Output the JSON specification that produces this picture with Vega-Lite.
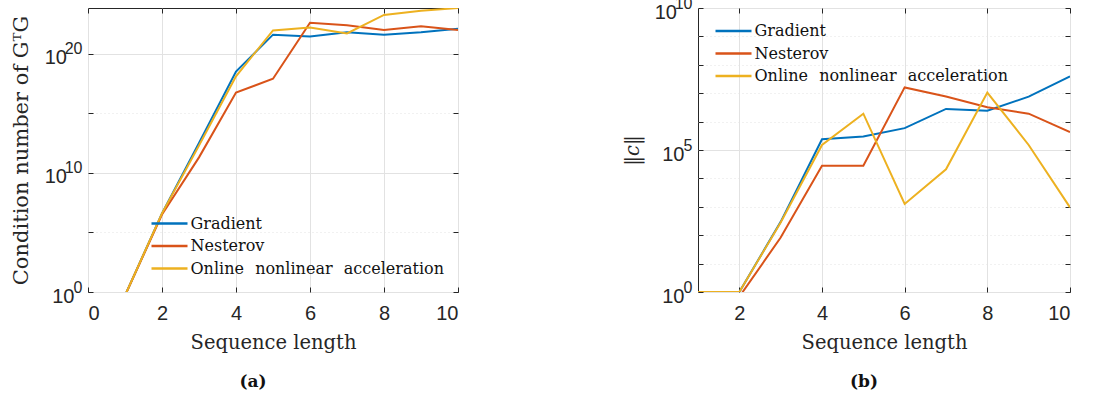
{
  "$schema": "https://vega.github.io/schema/vega-lite/v6.json",
  "background": "white",
  "padding": {"left": 9, "top": -6, "right": 5, "bottom": 5},
  "spacing": 240,
  "bounds": "flush",
  "datasets": {
    "a": [
      {"x": 1, "method": "Gradient", "y": 0.5},
      {"x": 2, "method": "Gradient", "y": 4.0e6},
      {"x": 3, "method": "Gradient", "y": 3.2e12},
      {"x": 4, "method": "Gradient", "y": 3.2e18},
      {"x": 5, "method": "Gradient", "y": 4.0e21},
      {"x": 6, "method": "Gradient", "y": 2.8e21},
      {"x": 7, "method": "Gradient", "y": 6.3e21},
      {"x": 8, "method": "Gradient", "y": 4.0e21},
      {"x": 9, "method": "Gradient", "y": 6.3e21},
      {"x": 10, "method": "Gradient", "y": 1.26e22},
      {"x": 1, "method": "Nesterov", "y": 0.5},
      {"x": 2, "method": "Nesterov", "y": 3.2e6},
      {"x": 3, "method": "Nesterov", "y": 2.0e11},
      {"x": 4, "method": "Nesterov", "y": 5.6e16},
      {"x": 5, "method": "Nesterov", "y": 7.9e17},
      {"x": 6, "method": "Nesterov", "y": 4.0e22},
      {"x": 7, "method": "Nesterov", "y": 2.5e22},
      {"x": 8, "method": "Nesterov", "y": 1.0e22},
      {"x": 9, "method": "Nesterov", "y": 2.0e22},
      {"x": 10, "method": "Nesterov", "y": 1.0e22},
      {"x": 1, "method": "Online nonlinear acceleration", "y": 0.5},
      {"x": 2, "method": "Online nonlinear acceleration", "y": 4.0e6},
      {"x": 3, "method": "Online nonlinear acceleration", "y": 2.0e12},
      {"x": 4, "method": "Online nonlinear acceleration", "y": 1.26e18},
      {"x": 5, "method": "Online nonlinear acceleration", "y": 9.1e21},
      {"x": 6, "method": "Online nonlinear acceleration", "y": 1.6e22},
      {"x": 7, "method": "Online nonlinear acceleration", "y": 5.0e21},
      {"x": 8, "method": "Online nonlinear acceleration", "y": 1.8e23},
      {"x": 9, "method": "Online nonlinear acceleration", "y": 4.0e23},
      {"x": 10, "method": "Online nonlinear acceleration", "y": 6.9e23}
    ],
    "b": [
      {"x": 1, "method": "Gradient", "y": 1},
      {"x": 2, "method": "Gradient", "y": 1},
      {"x": 3, "method": "Gradient", "y": 295},
      {"x": 4, "method": "Gradient", "y": 2.4e5},
      {"x": 5, "method": "Gradient", "y": 3.0e5},
      {"x": 6, "method": "Gradient", "y": 5.9e5},
      {"x": 7, "method": "Gradient", "y": 2.8e6},
      {"x": 8, "method": "Gradient", "y": 2.4e6},
      {"x": 9, "method": "Gradient", "y": 7.6e6},
      {"x": 10, "method": "Gradient", "y": 3.9e7},
      {"x": 1, "method": "Nesterov", "y": 0.68},
      {"x": 2, "method": "Nesterov", "y": 0.68},
      {"x": 3, "method": "Nesterov", "y": 83},
      {"x": 4, "method": "Nesterov", "y": 2.8e4},
      {"x": 5, "method": "Nesterov", "y": 2.8e4},
      {"x": 6, "method": "Nesterov", "y": 1.6e7},
      {"x": 7, "method": "Nesterov", "y": 7.6e6},
      {"x": 8, "method": "Nesterov", "y": 3.2e6},
      {"x": 9, "method": "Nesterov", "y": 1.9e6},
      {"x": 10, "method": "Nesterov", "y": 4.3e5},
      {"x": 1, "method": "Online nonlinear acceleration", "y": 1},
      {"x": 2, "method": "Online nonlinear acceleration", "y": 1},
      {"x": 3, "method": "Online nonlinear acceleration", "y": 280},
      {"x": 4, "method": "Online nonlinear acceleration", "y": 1.5e5},
      {"x": 5, "method": "Online nonlinear acceleration", "y": 1.9e6},
      {"x": 6, "method": "Online nonlinear acceleration", "y": 1260},
      {"x": 7, "method": "Online nonlinear acceleration", "y": 2.1e4},
      {"x": 8, "method": "Online nonlinear acceleration", "y": 1.05e7},
      {"x": 9, "method": "Online nonlinear acceleration", "y": 1.5e5},
      {"x": 10, "method": "Online nonlinear acceleration", "y": 955}
    ]
  },
  "config": {
    "view": {"stroke": "#262626", "strokeWidth": 1},
    "axis": {
      "domain": false,
      "labelFont": "Liberation Sans",
      "labelFontSize": 20,
      "labelColor": "#262626",
      "titleFont": "DejaVu Serif",
      "titleFontWeight": "normal",
      "titleFontSize": 19.5,
      "titleColor": "#262626",
      "gridColor": "#e2e2e2",
      "gridWidth": 1,
      "tickColor": "#262626",
      "tickSize": -5,
      "labelPadding": 6
    },
    "legend": {
      "orient": "none",
      "title": null,
      "padding": 0,
      "symbolOffset": 0,
      "symbolType": "M-2,0H2",
      "symbolSize": 324,
      "symbolStrokeWidth": 2.5,
      "labelFont": "DejaVu Serif",
      "labelFontSize": 16,
      "labelColor": "#111111",
      "labelOffset": 10.5,
      "labelLimit": 0,
      "rowPadding": 3.5
    },
    "title": {
      "orient": "bottom",
      "font": "DejaVu Serif",
      "fontSize": 17,
      "fontWeight": "bold",
      "color": "#111111",
      "offset": 22,
      "frame": "group",
      "dx": -20
    }
  },
  "resolve": {"scale": {"color": "independent"}},
  "hconcat": [
    {
      "width": 370,
      "height": 284,
      "title": {"text": "(a)"},
      "data": {"name": "a"},
      "resolve": {"scale": {"x": "independent", "y": "independent"}, "axis": {"x": "independent", "y": "independent"}},
      "layer": [
        {
          "mark": {"type": "line", "strokeWidth": 2, "clip": true},
          "encoding": {
            "x": {
              "field": "x", "type": "quantitative",
              "scale": {"domain": [0, 10], "nice": false},
              "axis": {"orient": "bottom", "values": [0, 2, 4, 6, 8, 10], "title": "Sequence length", "labelPadding": 16, "titlePadding": 10}
            },
            "y": {
              "field": "y", "type": "quantitative",
              "scale": {"type": "log", "domain": [1, 6.9e23], "nice": false},
              "axis": {
                "orient": "left",
                "values": [1, 1e5, 1e10, 1e15, 1e20],
                "labelExpr": "round(log(datum.value)/LN10) % 10 == 0 ? '10' : ''",
                "labelAlign": "right",
                "labelOffset": 4,
                "labelPadding": {"condition": {"test": "round(log(datum.value)/LN10) >= 10", "value": 26.5}, "value": 19},
                "gridDash": {"condition": {"test": "round(log(datum.value)/LN10) % 10 != 0", "value": [1, 3]}, "value": []},
                "title": "Condition number of GᵀG",
                "titleFontSize": 21,
                "titlePadding": 13
              }
            },
            "color": {
              "field": "method", "type": "nominal",
              "scale": {"domain": ["Gradient", "Nesterov", "Online nonlinear acceleration"], "range": ["#0072BD", "#D95319", "#EDB120"]},
              "legend": {"legendX": 71, "legendY": 205, "labelExpr": "datum.label == 'Online nonlinear acceleration' ? 'Online\u2002\u2009nonlinear\u2002\u2009acceleration' : datum.label"}
            }
          }
        },
        {
          "mark": {"type": "point", "opacity": 0},
          "encoding": {
            "y": {
              "field": "y", "type": "quantitative",
              "scale": {"type": "log", "domain": [1, 6.9e23], "nice": false},
              "axis": {
                "orient": "left",
                "values": [1, 1e10, 1e20],
                "labelExpr": "'' + round(log(datum.value)/LN10)",
                "labelFontSize": 16,
                "labelAlign": "right",
                "labelOffset": -5,
                "labelPadding": 6,
                "grid": false,
                "ticks": false,
                "title": null
              }
            }
          }
        },
        {
          "mark": {"type": "point", "opacity": 0},
          "encoding": {
            "x": {
              "field": "x", "type": "quantitative",
              "scale": {"domain": [0, 10], "nice": false},
              "axis": {"orient": "top", "values": [0, 2, 4, 6, 8, 10], "labels": false, "grid": false, "title": null}
            },
            "y": {
              "field": "y", "type": "quantitative",
              "scale": {"type": "log", "domain": [1, 6.9e23], "nice": false},
              "axis": {"orient": "right", "values": [1, 1e5, 1e10, 1e15, 1e20], "labels": false, "grid": false, "title": null}
            }
          }
        }
      ]
    },
    {
      "width": 372,
      "height": 284,
      "title": {"text": "(b)"},
      "data": {"name": "b"},
      "resolve": {"scale": {"x": "independent", "y": "independent"}, "axis": {"x": "independent", "y": "independent"}},
      "layer": [
        {
          "mark": {"type": "line", "strokeWidth": 2, "clip": true},
          "encoding": {
            "x": {
              "field": "x", "type": "quantitative",
              "scale": {"domain": [1, 10], "nice": false},
              "axis": {"orient": "bottom", "values": [2, 4, 6, 8, 10], "title": "Sequence length", "labelPadding": 16, "titlePadding": 10}
            },
            "y": {
              "field": "y", "type": "quantitative",
              "scale": {"type": "log", "domain": [1, 1e10], "nice": false},
              "axis": {
                "orient": "left",
                "values": [1, 10, 100, 1e3, 1e4, 1e5, 1e6, 1e7, 1e8, 1e9, 1e10],
                "labelExpr": "round(log(datum.value)/LN10) % 5 == 0 ? '10' : ''",
                "labelAlign": "right",
                "labelOffset": 4,
                "labelPadding": {"condition": {"test": "round(log(datum.value)/LN10) >= 10", "value": 26.5}, "value": 19},
                "gridDash": {"condition": {"test": "round(log(datum.value)/LN10) % 5 != 0", "value": [1, 3]}, "value": []},
                "title": "‖c‖",
                "titleFontStyle": "italic",
                "titlePadding": 12
              }
            },
            "color": {
              "field": "method", "type": "nominal",
              "scale": {"domain": ["Gradient", "Nesterov", "Online nonlinear acceleration"], "range": ["#0072BD", "#D95319", "#EDB120"]},
              "legend": {"legendX": 25, "legendY": 12.5, "labelExpr": "datum.label == 'Online nonlinear acceleration' ? 'Online\u2002\u2009nonlinear\u2002\u2009acceleration' : datum.label"}
            }
          }
        },
        {
          "mark": {"type": "point", "opacity": 0},
          "encoding": {
            "y": {
              "field": "y", "type": "quantitative",
              "scale": {"type": "log", "domain": [1, 1e10], "nice": false},
              "axis": {
                "orient": "left",
                "values": [1, 1e5, 1e10],
                "labelExpr": "'' + round(log(datum.value)/LN10)",
                "labelFontSize": 16,
                "labelAlign": "right",
                "labelOffset": -5,
                "labelPadding": 6,
                "grid": false,
                "ticks": false,
                "title": null
              }
            }
          }
        },
        {
          "mark": {"type": "point", "opacity": 0},
          "encoding": {
            "x": {
              "field": "x", "type": "quantitative",
              "scale": {"domain": [1, 10], "nice": false},
              "axis": {"orient": "top", "values": [2, 4, 6, 8, 10], "labels": false, "grid": false, "title": null}
            },
            "y": {
              "field": "y", "type": "quantitative",
              "scale": {"type": "log", "domain": [1, 1e10], "nice": false},
              "axis": {"orient": "right", "values": [1, 10, 100, 1e3, 1e4, 1e5, 1e6, 1e7, 1e8, 1e9, 1e10], "labels": false, "grid": false, "title": null}
            }
          }
        }
      ]
    }
  ]
}
